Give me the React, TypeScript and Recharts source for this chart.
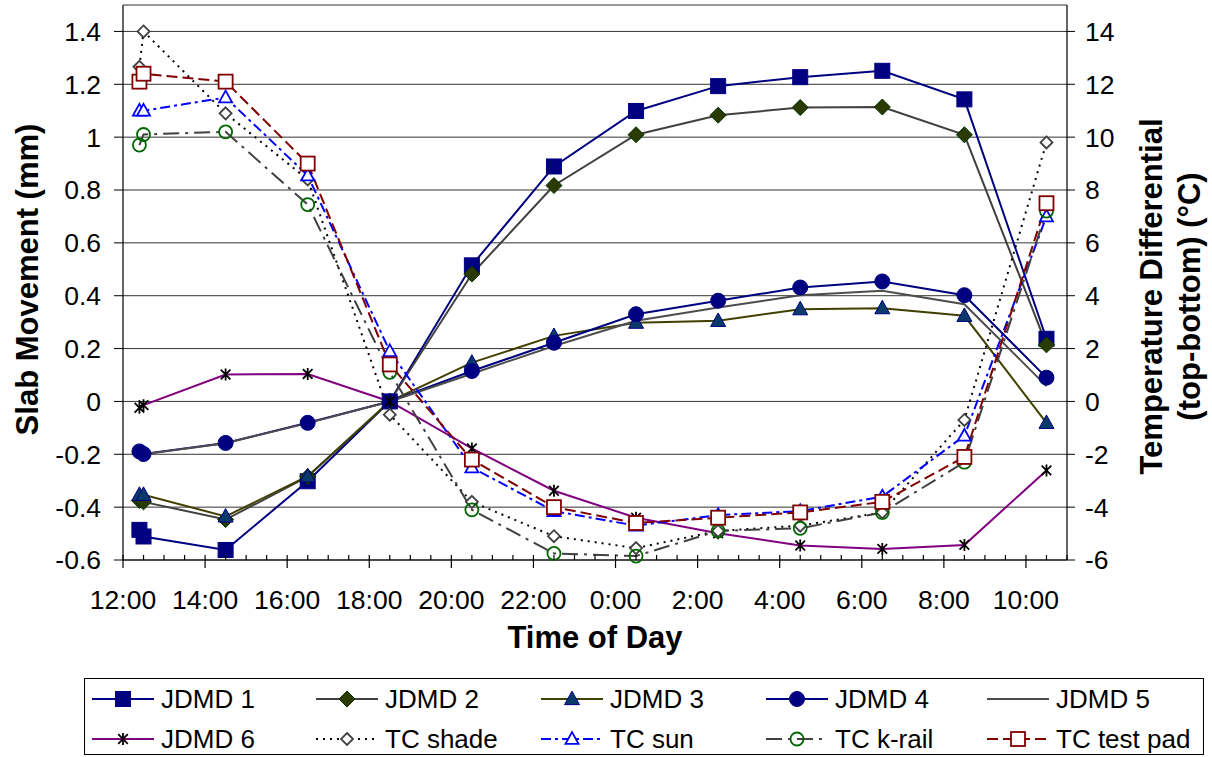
import React from 'react';
import { LineChart, Line, XAxis, YAxis, CartesianGrid, Legend } from 'recharts';

// hours after noon (first reading ~12:24, then every 2 h from 12:30)
const times = [0.4, 0.5, 2.5, 4.5, 6.5, 8.5, 10.5, 12.5, 14.5, 16.5, 18.5, 20.5, 22.5];
const hourTicks = [0, 2, 4, 6, 8, 10, 12, 14, 16, 18, 20, 22];
const hourLabels = ['12:00', '14:00', '16:00', '18:00', '20:00', '22:00', '0:00', '2:00', '4:00', '6:00', '8:00', '10:00'];
const halfHourTicks = Array.from({ length: 47 }, (_, i) => i / 2);

const movementTicks = [-0.6, -0.4, -0.2, 0, 0.2, 0.4, 0.6, 0.8, 1, 1.2, 1.4];
const tempTicks = [-6, -4, -2, 0, 2, 4, 6, 8, 10, 12, 14];

// slab movement (mm)
const jdmd1 = [-0.486, -0.511, -0.562, -0.302, 0, 0.515, 0.889, 1.099, 1.193, 1.227, 1.251, 1.143, 0.237];
const jdmd2 = [-0.375, -0.38, -0.447, -0.285, 0, 0.482, 0.817, 1.009, 1.083, 1.112, 1.114, 1.009, 0.214];
const jdmd3 = [-0.353, -0.353, -0.435, -0.283, 0, 0.147, 0.248, 0.298, 0.305, 0.349, 0.353, 0.324, -0.081];
const jdmd4 = [-0.189, -0.199, -0.157, -0.081, 0, 0.115, 0.222, 0.33, 0.381, 0.431, 0.454, 0.402, 0.09];
const jdmd5 = [-0.195, -0.2, -0.158, -0.082, 0, 0.105, 0.21, 0.305, 0.355, 0.402, 0.419, 0.368, 0.058];
const jdmd6 = [-0.024, -0.014, 0.102, 0.104, 0, -0.178, -0.338, -0.44, -0.499, -0.545, -0.558, -0.543, -0.261];

// temperature differential top-bottom (°C)
const tcShade = [12.66, 14.0, 10.9, 8.4, -0.5, -3.8, -5.1, -5.55, -4.9, -4.7, -4.2, -0.7, 9.8];
const tcSun = [11.0, 11.0, 11.5, 8.55, 1.9, -2.5, -4.15, -4.7, -4.3, -4.15, -3.6, -1.3, 7.0];
const tcKrail = [9.7, 10.1, 10.2, 7.45, 1.1, -4.1, -5.75, -5.85, -4.9, -4.8, -4.2, -2.3, 7.2];
const tcTestPad = [12.1, 12.4, 12.1, 9.0, 1.4, -2.2, -4.0, -4.6, -4.4, -4.2, -3.8, -2.1, 7.5];

type Series = {
  key: string;
  name: string;
  values: number[];
  axis: 'left' | 'right';
  color: string;
  dash?: string;
  marker?: 'square' | 'diamond' | 'triangle' | 'circle' | 'star';
  fill?: string;
  mstroke?: string;
  size?: number;
};

const seriesList: Series[] = [
  { key: 'jdmd1', name: 'JDMD 1', values: jdmd1, axis: 'left', color: '#000080', marker: 'square', fill: '#000080', mstroke: '#000080', size: 15 },
  { key: 'jdmd2', name: 'JDMD 2', values: jdmd2, axis: 'left', color: '#404040', marker: 'diamond', fill: '#2a3a00', mstroke: '#003300', size: 16 },
  { key: 'jdmd3', name: 'JDMD 3', values: jdmd3, axis: 'left', color: '#404000', marker: 'triangle', fill: '#0a3a6a', mstroke: '#000080', size: 15 },
  { key: 'jdmd4', name: 'JDMD 4', values: jdmd4, axis: 'left', color: '#000080', marker: 'circle', fill: '#000080', mstroke: '#000080', size: 15 },
  { key: 'jdmd5', name: 'JDMD 5', values: jdmd5, axis: 'left', color: '#4d4d4d' },
  { key: 'jdmd6', name: 'JDMD 6', values: jdmd6, axis: 'left', color: '#800080', marker: 'star', fill: 'none', mstroke: '#000000', size: 12 },
  { key: 'tcShade', name: 'TC shade', values: tcShade, axis: 'right', color: '#000000', dash: '2 5', marker: 'diamond', fill: '#ffffff', mstroke: '#404040', size: 12 },
  { key: 'tcSun', name: 'TC sun', values: tcSun, axis: 'right', color: '#0000ff', dash: '10 4 3 4', marker: 'triangle', fill: '#ffffff', mstroke: '#0000ff', size: 13 },
  { key: 'tcKrail', name: 'TC k-rail', values: tcKrail, axis: 'right', color: '#404040', dash: '16 6 3 6', marker: 'circle', fill: 'none', mstroke: '#006600', size: 13 },
  { key: 'tcTestPad', name: 'TC test pad', values: tcTestPad, axis: 'right', color: '#800000', dash: '11 5', marker: 'square', fill: '#ffffff', mstroke: '#800000', size: 14 },
];

const data = times.map((t, i) => {
  const row: Record<string, number> = { t };
  seriesList.forEach((s) => {
    row[s.key] = s.values[i];
  });
  return row;
});

const FONT = '"Liberation Sans", Arial, sans-serif';

const Marker = ({ s, cx, cy }: { s: Series; cx: number; cy: number }) => {
  const h = (s.size || 12) / 2;
  const common = { fill: s.fill, stroke: s.mstroke, strokeWidth: s.fill === '#ffffff' || s.fill === 'none' ? 1.8 : 1 };
  switch (s.marker) {
    case 'square':
      return <rect x={cx - h} y={cy - h} width={h * 2} height={h * 2} {...common} />;
    case 'diamond':
      return <polygon points={`${cx},${cy - h} ${cx + h},${cy} ${cx},${cy + h} ${cx - h},${cy}`} {...common} />;
    case 'triangle':
      return <polygon points={`${cx},${cy - h * 1.05} ${cx + h},${cy + h * 0.75} ${cx - h},${cy + h * 0.75}`} {...common} />;
    case 'circle':
      return <circle cx={cx} cy={cy} r={h} {...common} />;
    case 'star':
      return (
        <path
          d={`M${cx - h * 0.8},${cy - h * 0.8}L${cx + h * 0.8},${cy + h * 0.8}M${cx - h * 0.8},${cy + h * 0.8}L${cx + h * 0.8},${cy - h * 0.8}M${cx},${cy - h}L${cx},${cy + h}`}
          stroke="#000"
          strokeWidth={1.8}
          fill="none"
        />
      );
    default:
      return null;
  }
};

const TimeTick = (props: any) => {
  const { x, y, payload } = props;
  const idx = hourTicks.indexOf(payload.value);
  const major = idx >= 0;
  return (
    <g>
      <line x1={x} x2={x} y1={y - 5} y2={major ? y + 8 : y} stroke="#000" strokeWidth={1.2} />
      {major && (
        <text x={x} y={y + 49} textAnchor="middle" fontSize={26.5} fontFamily={FONT} fill="#000">
          {hourLabels[idx]}
        </text>
      )}
    </g>
  );
};

const LegendBox = () => {
  const cols = [7, 231, 456, 681, 902];
  const rows = [20, 60];
  return (
    <svg width={1120} height={77} style={{ display: 'block', border: '1.5px solid #000', boxSizing: 'border-box' }}>
      {seriesList.map((s, i) => {
        const x = cols[i % 5];
        const y = rows[Math.floor(i / 5)];
        return (
          <g key={s.key}>
            <line x1={x} x2={x + 62} y1={y} y2={y} stroke={s.color} strokeWidth={2} strokeDasharray={s.dash} />
            {s.marker && <Marker s={s} cx={x + 31} cy={y} />}
            <text x={x + 69} y={y + 9} fontSize={26} fontFamily={FONT} fill="#000">
              {s.name}
            </text>
          </g>
        );
      })}
    </svg>
  );
};

const LeftTitle = (props: any) => {
  const { viewBox } = props;
  const cy = viewBox.y + viewBox.height / 2 - 3;
  return (
    <text x={27.5} y={cy} transform={`rotate(-90 27.5 ${cy})`} textAnchor="middle" dominantBaseline="central" fontSize={31} fontWeight="bold" fontFamily={FONT} fill="#000">
      Slab Movement (mm)
    </text>
  );
};

const RightTitle = (props: any) => {
  const { viewBox } = props;
  const cy = viewBox.y + viewBox.height / 2 + 14;
  return (
    <g>
      <text x={1151} y={cy} transform={`rotate(-90 1151 ${cy})`} textAnchor="middle" dominantBaseline="central" fontSize={31} fontWeight="bold" fontFamily={FONT} fill="#000">
        Temperature Differential
      </text>
      <text x={1189} y={cy} transform={`rotate(-90 1189 ${cy})`} textAnchor="middle" dominantBaseline="central" fontSize={31} fontWeight="bold" fontFamily={FONT} fill="#000">
        (top-bottom) (°C)
      </text>
    </g>
  );
};

const BottomTitle = (props: any) => {
  const { viewBox } = props;
  const cx = viewBox.x + viewBox.width / 2;
  return (
    <text x={cx} y={648} textAnchor="middle" fontSize={31} fontWeight="bold" fontFamily={FONT} fill="#000">
      Time of Day
    </text>
  );
};

export default function App() {
  return (
    <div style={{ position: 'absolute', left: 0, top: 0, background: '#fff' }}>
      <LineChart width={1212} height={757} data={data} margin={{ top: 5, right: 0, bottom: 20, left: 0 }}>
        <CartesianGrid yAxisId="left" vertical={false} stroke="#333" strokeWidth={1} />
        <XAxis
          dataKey="t"
          type="number"
          domain={[0, 23]}
          ticks={halfHourTicks}
          interval={0}
          tick={<TimeTick />}
          tickLine={false}
          tickSize={0}
          tickMargin={0}
          height={100}
          axisLine={{ stroke: '#000', strokeWidth: 1.2 }}
          label={<BottomTitle />}
        />
        <XAxis xAxisId="top" orientation="top" type="number" domain={[0, 23]} tick={false} tickLine={false} height={0} axisLine={{ stroke: '#000', strokeWidth: 1.2 }} />
        <YAxis
          yAxisId="left"
          type="number"
          domain={[-0.6, 1.5]}
          ticks={movementTicks}
          interval={0}
          width={123}
          tickSize={9}
          tickMargin={13}
          tick={{ fontSize: 26.5, fontFamily: FONT, fill: '#000' }}
          tickLine={{ stroke: '#000' }}
          axisLine={{ stroke: '#000', strokeWidth: 1.2 }}
          label={<LeftTitle />}
        />
        <YAxis
          yAxisId="right"
          orientation="right"
          type="number"
          domain={[-6, 15]}
          ticks={tempTicks}
          interval={0}
          width={145}
          tickSize={8}
          tickMargin={10}
          tick={{ fontSize: 26.5, fontFamily: FONT, fill: '#000', textAnchor: 'start' }}
          tickLine={{ stroke: '#000' }}
          axisLine={{ stroke: '#000', strokeWidth: 1.2 }}
          label={<RightTitle />}
        />
        <Legend verticalAlign="bottom" wrapperStyle={{ left: 84, top: 678, width: 1120, height: 77 }} content={<LegendBox />} />
        {seriesList.map((s) => (
          <Line
            key={s.key}
            yAxisId={s.axis}
            dataKey={s.key}
            name={s.name}
            type="linear"
            stroke={s.color}
            strokeWidth={2}
            strokeDasharray={s.dash}
            isAnimationActive={false}
            activeDot={false}
            dot={(p: any) => (s.marker ? <Marker key={`${s.key}-${p.index}`} s={s} cx={p.cx} cy={p.cy} /> : <g key={`${s.key}-${p.index}`} />)}
          />
        ))}
      </LineChart>
    </div>
  );
}
